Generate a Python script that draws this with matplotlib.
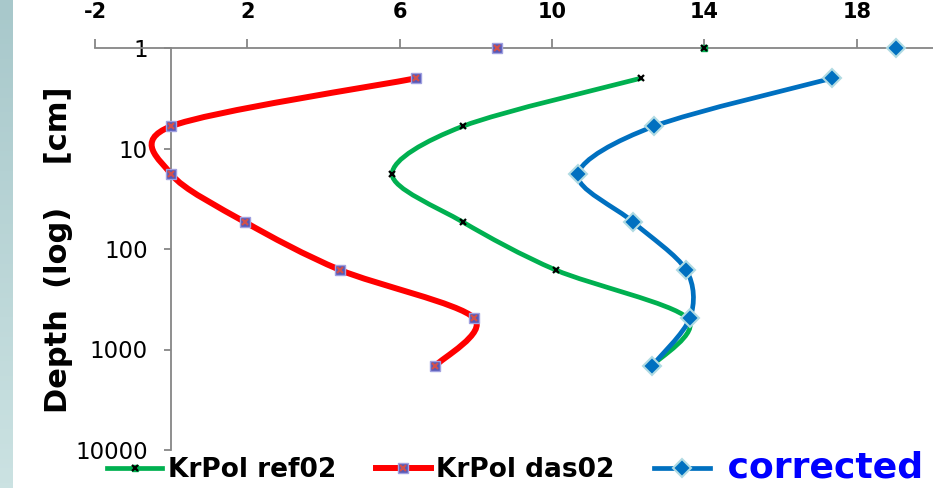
import numpy as np
import matplotlib.pyplot as plt
from matplotlib.path import Path
from matplotlib.patches import PathPatch
from matplotlib.lines import Line2D
from matplotlib.legend_handler import HandlerTuple
from matplotlib.colors import LinearSegmentedColormap

plt.rcParams['font.family'] = ['DejaVu Sans']

# depth [cm], log scale
depth = [2, 6, 18, 54, 162, 486, 1458]
ref02 = [12.33, 7.66, 5.80, 7.66, 10.10, 13.55, 12.62]
das02 = [6.43, 0.0, 0.0, 1.94, 4.44, 7.95, 6.93]
corrected = [17.35, 12.68, 10.68, 12.13, 13.52, 13.62, 12.62]

# single points sitting on the top axis (depth 1)
top_depth = [1]
ref02_top = [14.0]
das02_top = [8.56]
corrected_top = [19.03]

xticks = [-2, 2, 6, 10, 14, 18]
yticks = [1, 10, 100, 1000, 10000]
ytick_labels = ['1', '10', '100', '1000', '10000']

GREEN = '#00b050'
RED = '#ff0000'
BLUE = '#0070c0'
AXIS = '#868686'


# Excel-like smoothed line: Catmull-Rom -> cubic bezier in (x, log10 depth)
def smooth_path(xs, ds, k=1 / 6.5):
    p = np.column_stack([xs, np.log10(ds)])
    ext = np.vstack([p[0], p, p[-1]])
    verts = [p[0]]
    codes = [Path.MOVETO]
    for i in range(len(p) - 1):
        p0, p1, p2, p3 = ext[i], ext[i + 1], ext[i + 2], ext[i + 3]
        verts += [p1 + (p2 - p0) * k, p2 - (p3 - p1) * k, p2]
        codes += [Path.CURVE4] * 3
    verts = np.array(verts)
    verts[:, 1] = 10 ** verts[:, 1]
    return Path(verts, codes)


fig = plt.figure(figsize=(9.33, 4.88), dpi=100)

# teal strip on the left edge
strip = fig.add_axes([0, 0, 13 / 933, 1])
cmap = LinearSegmentedColormap.from_list('strip', ['#a8c8cb', '#cbe2e2'])
strip.imshow(np.linspace(0, 1, 100).reshape(-1, 1), aspect='auto', cmap=cmap)
strip.axis('off')

ax = fig.add_axes([95 / 933, 1 - 450 / 488, 1 - 95 / 933, (450 - 48) / 488])
ax.set_yscale('log')
ax.set_xlim(-2, 20)
ax.set_ylim(10000, 1)

# curves
for xs, col, lw in [(ref02, GREEN, 3.4), (das02, RED, 4.3), (corrected, BLUE, 3.4)]:
    ax.add_patch(PathPatch(smooth_path(xs, depth), fill=False, edgecolor=col,
                           lw=lw, capstyle='round', zorder=3))

# markers
ax.plot(ref02, depth, ls='none', marker='x', ms=4, mew=1.6, color='black', zorder=4)
ax.plot(das02, depth, ls='none', marker='s', ms=6.5, mfc='#5558b8', mec='#a0a0e0',
        mew=1, zorder=4)
ax.plot(das02, depth, ls='none', marker='x', ms=5, mew=1.6, color='#d0504d', zorder=5)
ax.plot(corrected, depth, ls='none', marker='D', ms=9, mfc=BLUE, mec='#b0dbe3',
        mew=1.5, zorder=4)

ax.plot(ref02_top, top_depth, ls='none', marker='s', ms=5, mfc=GREEN, mec=GREEN,
        zorder=4, clip_on=False)
ax.plot(ref02_top, top_depth, ls='none', marker='x', ms=4, mew=1.6, color='black',
        zorder=5, clip_on=False)
ax.plot(das02_top, top_depth, ls='none', marker='s', ms=6.5, mfc='#5558b8',
        mec='#a0a0e0', mew=1, zorder=4, clip_on=False)
ax.plot(das02_top, top_depth, ls='none', marker='x', ms=5, mew=1.6, color='#d0504d',
        zorder=5, clip_on=False)
ax.plot(corrected_top, top_depth, ls='none', marker='D', ms=9, mfc=BLUE,
        mec='#b0dbe3', mew=1.5, zorder=4, clip_on=False)

# axes styling
for s in ['bottom', 'right']:
    ax.spines[s].set_visible(False)
ax.spines['left'].set_position(('data', 0))
for s in ['left', 'top']:
    ax.spines[s].set_color(AXIS)
    ax.spines[s].set_linewidth(1.3)

ax.xaxis.tick_top()
ax.set_xticks(xticks)
ax.set_xticklabels([str(t) for t in xticks], fontsize=15, fontweight='bold')
ax.tick_params(axis='x', length=6.5, width=1.3, color=AXIS, pad=12)

ax.set_yticks(yticks)
ax.set_yticklabels(ytick_labels, fontsize=16.5)
ax.yaxis.set_minor_locator(plt.NullLocator())
ax.tick_params(axis='y', length=5, width=1.3, color=AXIS, pad=12)

fig.text(59 / 933, 1 - 250 / 488, 'Depth  (log)    [cm]', rotation=90,
         ha='center', va='center', fontsize=22, fontweight='bold')

# legend
h_ref = (Line2D([], [], color=GREEN, lw=3.4, marker='s', ms=5, mfc=GREEN, mec=GREEN),
         Line2D([], [], ls='none', marker='x', ms=4, mew=1.6, color='black'))
h_das = (Line2D([], [], color=RED, lw=4.3, marker='s', ms=6.5, mfc='#5558b8',
                mec='#a0a0e0'),
         Line2D([], [], ls='none', marker='x', ms=5, mew=1.6, color='#d0504d'))
h_cor = Line2D([], [], color=BLUE, lw=3.4, marker='D', ms=9, mfc=BLUE, mec='#b0dbe3',
               mew=1.5)
leg = fig.legend([h_ref, h_das, h_cor], ['KrPol ref02', 'KrPol das02', ' corrected'],
                 handler_map={tuple: HandlerTuple(ndivide=1, pad=0)},
                 loc='center left', bbox_to_anchor=(107 / 933, 1 - 467 / 488),
                 ncol=3, frameon=False, borderpad=0, borderaxespad=0,
                 handlelength=2.1, handletextpad=0.2, columnspacing=1.5,
                 prop={'weight': 'bold', 'size': 19})
txt = leg.get_texts()
txt[2].set_color('#0000ff')
txt[2].set_fontsize(26)

fig.savefig('out.png', dpi=100)
